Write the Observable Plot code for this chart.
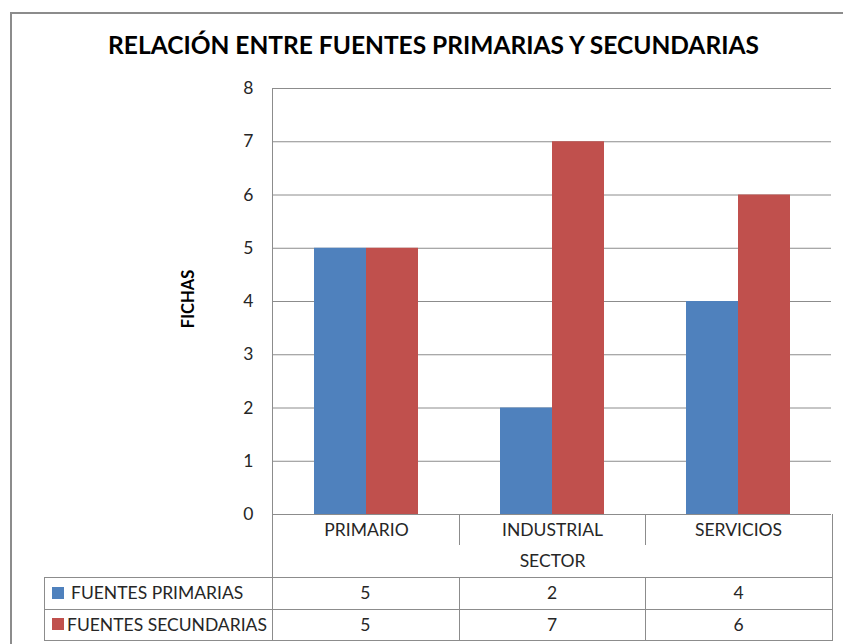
<!DOCTYPE html>
<html><head><meta charset="utf-8">
<script src="https://cdn.jsdelivr.net/npm/d3@7"></script>
<script src="https://cdn.jsdelivr.net/npm/@observablehq/plot@0.6"></script>
<style>
html,body{margin:0;padding:0;background:#fff;overflow:hidden;}
#page{position:relative;width:843px;height:644px;overflow:hidden;font-family:Lato,sans-serif;color:#262626;}
#frame{position:absolute;left:10px;top:12px;width:900px;height:700px;border:2px solid #8c8c8c;box-sizing:border-box;}
#title{position:absolute;left:0;width:867px;text-align:center;font-weight:bold;color:#000;line-height:1;white-space:nowrap;}
#ylabel{position:absolute;font-weight:bold;color:#000;font-size:16.5px;line-height:1;white-space:nowrap;transform:translate(-50%,-50%) rotate(-90deg);}
#chart{position:absolute;left:0;top:0;}
.ln{position:absolute;background:#8c8c8c;}
.cell{position:absolute;display:flex;align-items:center;justify-content:center;font-size:17.5px;white-space:nowrap;}
.lg{justify-content:flex-start;}
.sw{display:inline-block;width:12px;height:12px;}
</style>
</head><body>
<div id="page">
  <div id="frame"></div>
  <div id="title"></div>
  <div id="ylabel"></div>
  <div id="lines"></div>
  <div id="table"></div>
  <div id="chart"></div>
</div>
<script>
const titleText = "RELACIÓN ENTRE FUENTES PRIMARIAS Y SECUNDARIAS";
const yLabel = "FICHAS";
const xLabel = "SECTOR";
const categories = ["PRIMARIO", "INDUSTRIAL", "SERVICIOS"];
const series = ["FUENTES PRIMARIAS", "FUENTES SECUNDARIAS"];
const primarias = [5, 2, 4];
const secundarias = [5, 7, 6];
const yTicks = [0, 1, 2, 3, 4, 5, 6, 7, 8];
const colors = ["#4F81BD", "#C0504D"];

const values = [primarias, secundarias];
const rows = categories.flatMap((c, i) => series.map((s, j) => ({sector: c, serie: s, value: values[j][i]})));

const W = 843, H = 578, mT = 88, mR = 11, mB = 64, mL = 272;
const plotBottom = H - mB;

const chart = Plot.plot({
  width: W, height: H,
  marginTop: mT, marginRight: mR, marginBottom: mB, marginLeft: mL,
  style: {fontFamily: "Lato, sans-serif", fontSize: "17.5px", color: "#262626", background: "transparent", overflow: "visible"},
  fx: {domain: categories, padding: 0},
  x: {domain: series, paddingInner: 0, paddingOuter: 0.76, axis: null},
  y: {domain: [0, 8]},
  color: {domain: series, range: colors},
  marks: [
    Plot.gridY(yTicks, {stroke: "#8c8c8c", strokeOpacity: 1}),
    Plot.barY(rows, {fx: "sector", x: "serie", y: "value", fill: "serie"}),
    Plot.axisY(yTicks, {tickSize: 0, tickPadding: 20, label: null, tickFormat: d3.format("d")}),
    Plot.axisFx({anchor: "bottom", tickSize: 0, tickPadding: 9, label: xLabel, labelAnchor: "center", labelOffset: 52})
  ]
});
document.getElementById("chart").appendChild(chart);

// title
const title = document.getElementById("title");
const cv = document.createElement("canvas").getContext("2d");
cv.font = "bold 24px Lato";
const tw = cv.measureText(titleText).width;
const ts = 24 * 653 / tw;
title.textContent = titleText;
title.style.fontSize = ts + "px";
title.style.top = (55 - 0.887 * ts) + "px";

const yl = document.getElementById("ylabel");
yl.textContent = yLabel;
yl.style.left = "188px";
yl.style.top = "299px";

// data table structure
const colW = (W - mL - mR) / categories.length;
const edges = d3.range(categories.length + 1).map(i => mL + i * colW);
const rowTops = [577, 608.5];
const rowH = 31.5;
const tableLeft = 44;
const lines = document.getElementById("lines");
function ln(x, y, w, h) {
  const d = document.createElement("div");
  d.className = "ln";
  d.style.left = x + "px"; d.style.top = y + "px";
  d.style.width = w + "px"; d.style.height = h + "px";
  lines.appendChild(d);
}
const bottom = rowTops[0] + rowH * series.length;
ln(mL, mT, 1, bottom - mT + 1);
edges.slice(1).forEach(x => {
  ln(Math.round(x), plotBottom, 1, 31);
  ln(Math.round(x), rowTops[0], 1, bottom - rowTops[0] + 1);
});
ln(edges[edges.length - 1], plotBottom, 1, bottom - plotBottom + 1);
[rowTops[0], rowTops[1], bottom].forEach(y => ln(tableLeft, Math.round(y), edges[edges.length - 1] - tableLeft + 1, 1));
ln(tableLeft, rowTops[0], 1, bottom - rowTops[0] + 1);

const table = document.getElementById("table");
series.forEach((s, j) => {
  const lg = document.createElement("div");
  lg.className = "cell lg";
  lg.style.left = (tableLeft + 8) + "px";
  lg.style.top = rowTops[j] + "px";
  lg.style.width = (mL - tableLeft - 8) + "px";
  lg.style.height = rowH + "px";
  lg.innerHTML = `<span class="sw" style="background:${colors[j]};margin-right:${j === 0 ? 7 : 3}px"></span><span></span>`;
  lg.lastChild.textContent = s;
  table.appendChild(lg);
  categories.forEach((c, i) => {
    const d = document.createElement("div");
    d.className = "cell";
    d.style.left = edges[i] + "px";
    d.style.top = rowTops[j] + "px";
    d.style.width = colW + "px";
    d.style.height = rowH + "px";
    d.textContent = values[j][i];
    table.appendChild(d);
  });
});
</script>
</body></html>
